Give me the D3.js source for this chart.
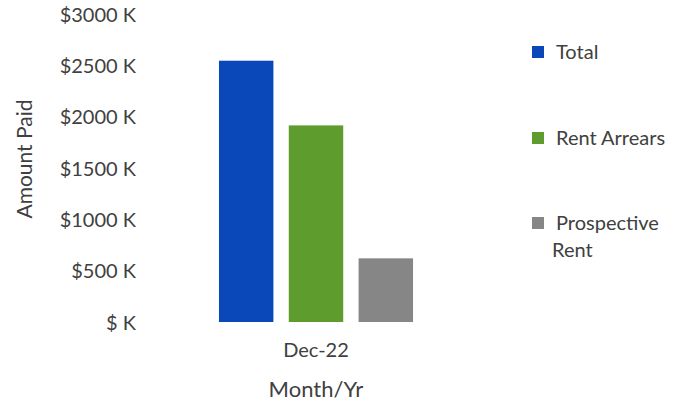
<!DOCTYPE html>
<meta charset="utf-8">
<script src="https://d3js.org/d3.v7.min.js"></script>
<style>
  body { margin: 0; background: #fff; }
  text { font-family: Lato, "Open Sans", sans-serif; fill: #404040; }
</style>
<div id="my_dataviz"></div>
<script>
  // data
  var months = ["Dec-22"];
  var seriesNames = ["Total", "Rent Arrears", "Prospective Rent"];
  var seriesValues = [2545, 1915, 620]; // in $K
  var seriesColors = ["#0a48b9", "#5e9c2e", "#868686"];
  var yTicks = [0, 500, 1000, 1500, 2000, 2500, 3000];

  var width = 694, height = 407;

  var svg = d3.select("#my_dataviz")
    .append("svg")
    .attr("width", width)
    .attr("height", height);

  // scales
  var y = d3.scaleLinear()
    .domain([0, 3000])
    .range([322, 14]);

  var x0 = d3.scaleBand()
    .domain(months)
    .range([205, 427]);

  var x1 = d3.scaleBand()
    .domain(seriesNames)
    .range([0, x0.bandwidth()])
    .paddingInner(0.22)
    .paddingOuter(0.2);

  var color = d3.scaleOrdinal()
    .domain(seriesNames)
    .range(seriesColors);

  // y axis (labels only)
  var yAxis = svg.append("g")
    .attr("transform", "translate(136,0)")
    .call(d3.axisLeft(y).tickValues(yTicks).tickSize(0).tickPadding(0)
      .tickFormat(function (d) { return "$" + (d === 0 ? "" : d) + " K"; }));
  yAxis.select(".domain").remove();
  yAxis.selectAll("text")
    .style("font-size", "20px")
    .attr("dy", "0.35em")
    .attr("fill", "#404040");

  // bars
  var groups = svg.selectAll("g.month")
    .data(months)
    .enter()
    .append("g")
    .attr("class", "month")
    .attr("transform", function (d) { return "translate(" + x0(d) + ",0)"; });

  groups.selectAll("rect")
    .data(seriesNames.map(function (n, i) { return { key: n, value: seriesValues[i] }; }))
    .enter()
    .append("rect")
    .attr("x", function (d) { return x1(d.key); })
    .attr("width", x1.bandwidth())
    .attr("y", function (d) { return y(d.value); })
    .attr("height", function (d) { return y(0) - y(d.value); })
    .attr("fill", function (d) { return color(d.key); });

  // x axis labels
  var xAxis = svg.append("g")
    .attr("transform", "translate(0,343)")
    .call(d3.axisBottom(x0).tickSize(0).tickPadding(0));
  xAxis.select(".domain").remove();
  xAxis.selectAll("text")
    .style("font-size", "20px")
    .attr("fill", "#404040");

  // axis titles
  svg.append("text")
    .attr("x", x0("Dec-22") + x0.bandwidth() / 2)
    .attr("y", 397)
    .attr("text-anchor", "middle")
    .style("font-size", "22px")
    .text("Month/Yr");

  svg.append("text")
    .attr("transform", "translate(32,159) rotate(-90)")
    .attr("text-anchor", "middle")
    .style("font-size", "21px")
    .text("Amount Paid");

  // legend
  var legendY = [52, 138, 223];
  var legend = svg.selectAll("g.legend")
    .data(seriesNames)
    .enter()
    .append("g")
    .attr("class", "legend")
    .attr("transform", function (d, i) { return "translate(532," + legendY[i] + ")"; });

  legend.append("rect")
    .attr("x", 0)
    .attr("y", -6)
    .attr("width", 12)
    .attr("height", 12)
    .attr("fill", function (d) { return color(d); });

  legend.append("text")
    .attr("x", 24)
    .attr("dy", "0.35em")
    .style("font-size", "20px")
    .each(function (d) {
      var t = d3.select(this);
      if (d === "Prospective Rent") {
        t.append("tspan").attr("x", 24).text("Prospective");
        t.append("tspan").attr("x", 20).attr("dy", "1.35em").text("Rent");
      } else {
        t.text(d);
      }
    });
</script>
